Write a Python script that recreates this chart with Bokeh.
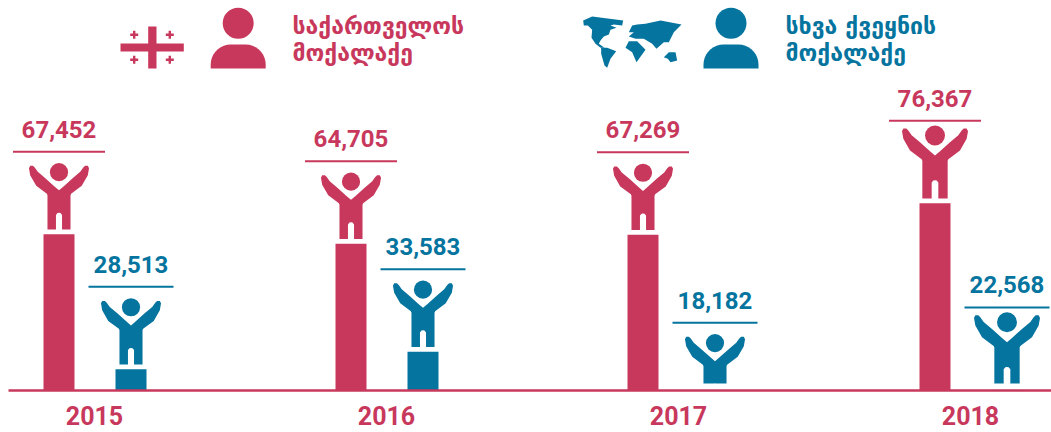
import numpy as np
from bokeh.plotting import figure
from bokeh.models import Range1d
from bokeh.core.properties import value
from bokeh.embed import file_html
from bokeh.resources import INLINE

years = ["2015", "2016", "2017", "2018"]
georgian = [67452, 64705, 67269, 76367]
foreign = [28513, 33583, 18182, 22568]
icon_scale = [0.91, 0.91, 0.91, 1.0]
legend_georgian = ["საქართველოს", "მოქალაქე"]
legend_foreign = ["სხვა ქვეყნის", "მოქალაქე"]

RED = "#C8385C"
BLUE = "#05749E"
FONT = "Roboto"
V0 = 22400
PX_PER_UNIT = 0.00347
STEP = 292.0
W, H = 1051, 432


def X(px):
    return (np.asarray(px, dtype=float) - 94.0) / STEP


def Y(py):
    return V0 + (390.0 - np.asarray(py, dtype=float)) / PX_PER_UNIT


p = figure(width=W, height=H, frame_width=W, frame_height=H,
           output_backend="svg", toolbar_location=None,
           x_range=Range1d(float(X(0)), float(X(W))),
           y_range=Range1d(float(Y(H)), float(Y(0))),
           min_border_left=0, min_border_right=0, min_border_top=0, min_border_bottom=0,
           outline_line_color=None)
p.grid.visible = False
p.xaxis.visible = False
p.yaxis.visible = False

# person outline, px at 3x: (dx from centre, y in the crop), bottom of the figure at 358
half = [(0, 229), (15, 216), (45, 189), (70, 168), (80, 154), (86, 148), (95, 148), (99, 156), (95, 179),
        (75, 214), (40, 240), (38, 245), (38, 358), (10, 358), (10, 310), (5, 304), (0, 303)]
hx = np.array([h[0] for h in half]) / 3.0
hy = (358 - np.array([h[1] for h in half])) / 3.0
PX = np.concatenate([hx, -hx[::-1]])
PY = np.concatenate([hy, hy[::-1]])
FOOT = 4.7   # gap between feet and bar
HEAD_UP = 63.0
HEAD_D = 20.0


def series(vals, dx, half_rule, color):
    vals = np.array(vals, dtype=float)
    s = np.array(icon_scale)
    cx = np.arange(len(vals)) + dx / STEP
    xs = [c + PX * k / STEP for c, k in zip(cx, s)]
    ys = [v + (FOOT + PY * k) / PX_PER_UNIT for v, k in zip(vals, s)]
    p.patches(xs, ys, fill_color=color, line_color=None)
    p.scatter(cx, vals + (FOOT + HEAD_UP * s) / PX_PER_UNIT, size=HEAD_D * s, marker="circle",
              fill_color=color, line_color=None)
    p.segment(cx - half_rule / STEP, vals + 82.5 / PX_PER_UNIT,
              cx + half_rule / STEP, vals + 82.5 / PX_PER_UNIT, line_color=color, line_width=2)
    p.text(cx, vals, text=[f"{int(v):,}" for v in vals], x_offset=0, y_offset=-105,
           text_align="center", text_baseline="alphabetic", text_color=color,
           text_font=value(FONT), text_font_style="bold", text_font_size="24px")
    return cx


# series drawn first, then the band that hides feet below the 7px gap over the axis, then bars
red_x = series(georgian, -35.5, 46, RED)
blue_x = series(foreign, 36.5, 42.5, BLUE)
p.quad(left=[float(X(0))], right=[float(X(W))], bottom=[float(Y(H))], top=[float(Y(383))],
       fill_color="white", line_color=None)
p.vbar(red_x, width=31 / STEP, bottom=V0, top=np.maximum(georgian, V0), fill_color=RED, line_color=None)
p.vbar(blue_x, width=31 / STEP, bottom=V0, top=np.maximum(foreign, V0), fill_color=BLUE, line_color=None)
p.segment([float(X(8))], [float(Y(390))], [float(X(W))], [float(Y(390))], line_color=RED, line_width=2.5)
p.text(list(range(len(years))), [V0] * len(years), text=years, y_offset=25,
       text_align="center", text_baseline="alphabetic", text_color=RED,
       text_font=value(FONT), text_font_style="bold", text_font_size="25px")


# legend icons
def head_body(cx, color):
    p.scatter(X([cx]), Y([22.7]), size=31, marker="circle", fill_color=color, line_color=None)
    t = np.linspace(0, np.pi / 2, 10)
    r = 20.0
    w = 27.5
    lx = cx - w + r - r * np.cos(t)
    ly = 44 + r - r * np.sin(t)
    xs = np.concatenate([lx, (2 * cx - lx)[::-1]])
    ys = np.concatenate([ly, ly[::-1]])
    xs = np.concatenate([[cx - w], xs, [cx + w]])
    ys = np.concatenate([[68], ys, [68]])
    p.patch(X(xs), Y(ys), fill_color=color, line_color=None)


head_body(237.7, RED)
head_body(730.5, BLUE)

# flag
p.quad(left=X([120, 147.7]), right=X([183.3, 156]), bottom=Y([51, 68]), top=Y([43, 26]),
       fill_color=RED, line_color=None)
p.scatter(X([133.7, 169.3, 133.7, 169.3]), Y([34.3, 34.3, 59.3, 59.3]), size=8, marker="cross",
          line_color=RED, line_width=2.4)

# world map, outline read at 3x of the crop at (580,10)
world = [
    [(8, 30), (35, 18), (128, 30), (125, 45), (100, 42), (90, 45), (108, 52), (90, 58), (85, 72), (70, 78),
     (60, 90), (55, 100), (72, 112), (60, 112), (45, 100), (33, 82), (35, 58), (22, 45), (10, 45)],
    [(62, 112), (80, 112), (107, 122), (90, 145), (80, 172), (72, 165), (62, 130)],
    [(155, 45), (170, 42), (195, 40), (240, 30), (303, 42), (280, 65), (265, 95), (250, 95), (228, 115), (215, 100),
     (190, 85), (165, 85), (145, 78), (160, 65), (145, 65)],
    [(145, 92), (170, 92), (195, 118), (168, 155), (155, 125), (135, 112)],
    [(250, 140), (265, 125), (285, 125), (290, 150), (270, 155), (262, 145)],
]
for part in world:
    p.patch(X([580 + q[0] / 3 for q in part]), Y([10 + q[1] / 3 for q in part]),
            fill_color=BLUE, line_color=None)


def legend_text(lines, px, color):
    for line, base in zip(lines, [25, 52]):
        p.text(X([px]), Y([base]), text=[line], text_align="left", text_baseline="alphabetic",
               text_color=color, text_font=value("DejaVu Sans"), text_font_style="bold",
               text_font_size="23px")


legend_text(legend_georgian, 292, RED)
legend_text(legend_foreign, 785, BLUE)

open("out.html", "w").write(file_html(p, INLINE))
